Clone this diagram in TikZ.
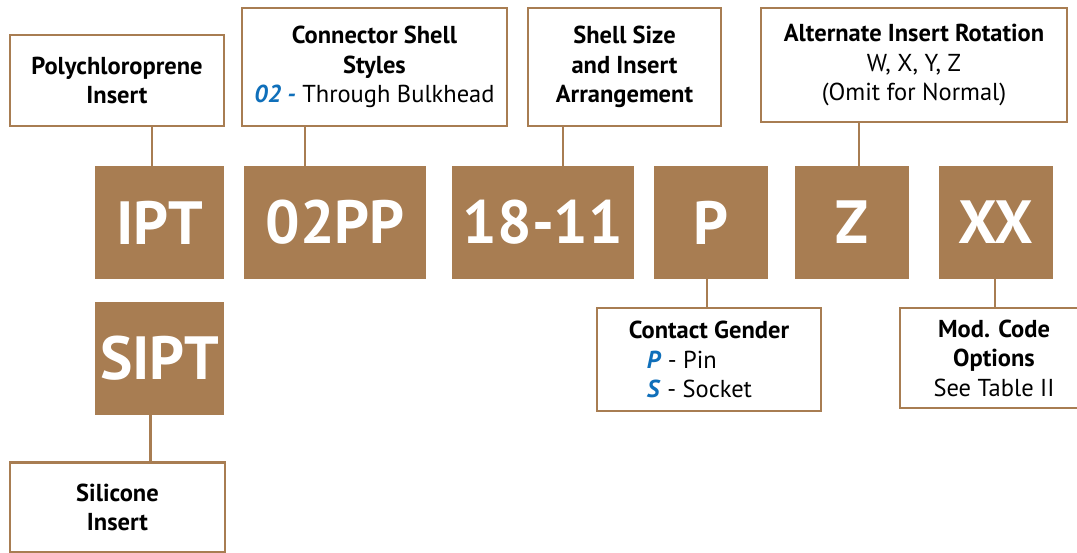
\documentclass[tikz,border=0pt]{standalone}
\usepackage{fontspec}
\setmainfont{PT Sans}
\usepackage{tikz}
\usetikzlibrary{calc}
\definecolor{shellbrown}{HTML}{A87D52}
\definecolor{codeblue}{HTML}{0F6FBA}
\newcommand{\bluecode}[1]{\textcolor{codeblue}{\textbf{\textit{#1}}}}
\tikzstyle{codebox} = [rectangle, fill=shellbrown, text=white, inner sep=0pt, minimum width=114pt, minimum height=113pt, font=\fontsize{61}{61}\selectfont\bfseries]
\tikzstyle{infobox} = [rectangle, draw=shellbrown, line width=2.3pt, fill=white, inner sep=0pt, text=black, align=center, font=\fontsize{24.5}{29.5}\selectfont]
\tikzstyle{connector} = [draw=shellbrown, line width=2.2pt]

\begin{document}
\begin{tikzpicture}[x=1pt, y=-1pt]
      \useasboundingbox (0,0) rectangle (1077,553);
      % part number codes
      \node (ipt)[codebox, minimum width=129pt] at (159.5,222.5) {IPT};
      \node (sipt)[codebox, minimum width=129pt] at (159.5,358.5) {SIPT};
      \node (shell)[codebox, minimum width=182pt] at (335,222.5) {02PP};
      \node (size)[codebox, minimum width=182pt] at (543,222.5) {18-11};
      \node (gen)[codebox] at (711,222.5) {P};
      \node (rot)[codebox] at (852,222.5) {Z};
      \node (mod)[codebox] at (996,222.5) {XX};
      % description boxes
      \node (poly)[infobox, minimum width=214pt, minimum height=91pt] at (117,80.5) {\textbf{Polychloroprene}\\\textbf{Insert}};
      \node (styles)[infobox, minimum width=265pt, minimum height=118pt] at (374.5,67) {\textbf{Connector Shell}\\\textbf{Styles}\\\bluecode{02 -} Through Bulkhead};
      \node (arr)[infobox, minimum width=193pt, minimum height=118pt] at (624.5,67) {\textbf{Shell Size}\\\textbf{and Insert}\\\textbf{Arrangement}};
      \node (alt)[infobox, minimum width=306pt, minimum height=114pt] at (914,65) {\textbf{Alternate Insert Rotation}\\W, X, Y, Z\\(Omit for Normal)};
      \node (sil)[infobox, minimum width=215pt, minimum height=90pt] at (117.5,507.5) {\textbf{Silicone}\\\textbf{Insert}};
      \node (contact)[infobox, align=left, minimum width=224pt, minimum height=103pt] at (709,359.5) {\textbf{Contact Gender}\\\hspace*{18pt}\bluecode{P} - Pin\\\hspace*{18pt}\bluecode{S} - Socket};
      \node (opts)[infobox, minimum width=188pt, minimum height=100pt] at (994,358) {\textbf{Mod. Code}\\\textbf{Options}\\See Table II};
      % connectors
      \draw [connector](poly.south -| 152,0) -- (ipt.north -| 152,0);
      \draw [connector](styles.south -| 305,0) -- (shell.north -| 305,0);
      \draw [connector](arr.south -| 563,0) -- (size.north -| 563,0);
      \draw [connector](alt.south -| 859,0) -- (rot.north -| 859,0);
      \draw [connector](gen.south -| 707,0) -- (contact.north -| 707,0);
      \draw [connector](mod.south -| 995,0) -- (opts.north -| 995,0);
      \draw [connector](sipt.south -| 150.5,0) -- (sil.north -| 150.5,0);
\end{tikzpicture}
\end{document}
